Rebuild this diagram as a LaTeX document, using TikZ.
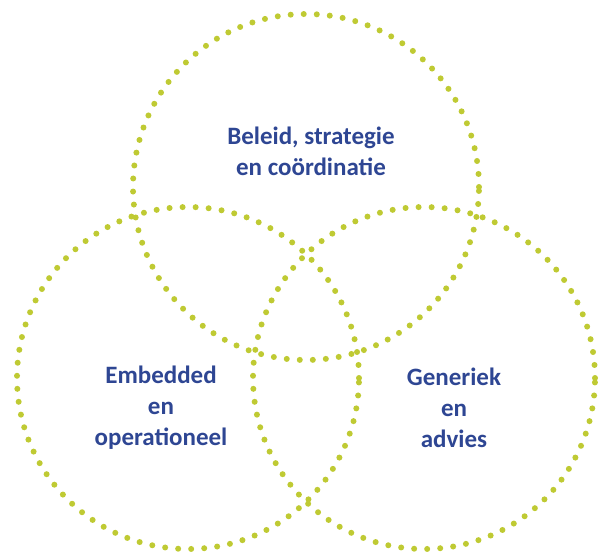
\documentclass[tikz,border=0pt]{standalone}
\usepackage{fontspec}
\setmainfont{Carlito}
\definecolor{stippel}{HTML}{BFCA33}
\definecolor{donkerblauw}{HTML}{2E4693}
\begin{document}
\begin{tikzpicture}[x=1pt, y=-1pt]

    % Stijlen
    \tikzstyle{cirkel} = [circle, inner sep=0pt, draw=stippel, line width=6pt, line cap=round, dash pattern=on 0pt off 13.05pt]
    \tikzstyle{label} = [align=center, text=donkerblauw, font=\fontsize{25}{31}\selectfont\bfseries]

    \useasboundingbox (0,0) rectangle (603,554);

    % Cirkels
    \node (beleid) [cirkel, minimum size=346pt] at (306,187) {};
    \node (embedded) [cirkel, minimum size=342pt] at (188,378) {};
    \node (generiek) [cirkel, minimum size=342pt] at (424,378) {};

    % Teksten
    \node (tbeleid) [label] at (311,151) {Beleid, strategie\\en coördinatie};
    \node (tembedded) [label] at (161,408) {Embedded\\en\\operationeel};
    \node (tgeneriek) [label] at (454,408) {Generiek\\en\\advies};

\end{tikzpicture}
\end{document}
